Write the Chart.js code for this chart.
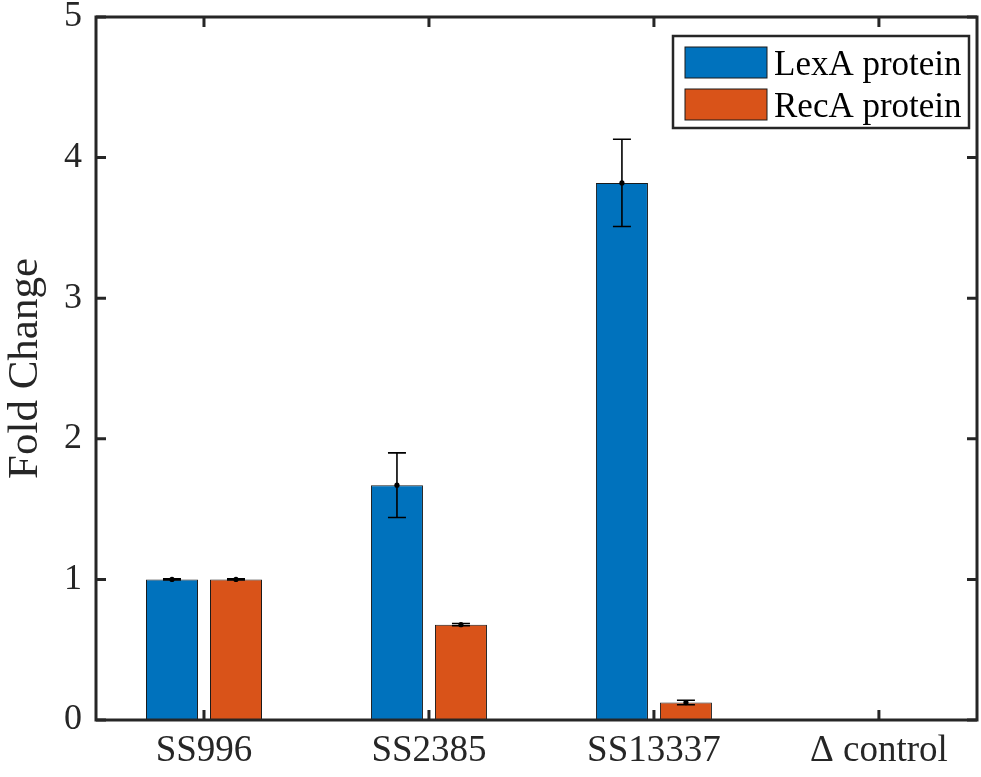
<!DOCTYPE html>
<html>
<head>
<meta charset="utf-8">
<script src="https://cdn.jsdelivr.net/npm/chart.js@4.4.1/dist/chart.umd.min.js"></script>
<style>
html,body{margin:0;padding:0;background:#fff;}
#wrap{width:981px;height:777px;position:relative;}
</style>
</head>
<body>
<div id="wrap"><canvas id="c" width="981" height="777"></canvas></div>
<script>
const categories = ['SS996', 'SS2385', 'SS13337', '\u0394 control'];
const seriesNames = ['LexA protein', 'RecA protein'];
const lexA = [1.0, 1.67, 3.82, 0];
const lexAErr = [0.004, 0.23, 0.31, 0];
const recA = [1.0, 0.678, 0.124, 0];
const recAErr = [0.004, 0.008, 0.016, 0];
const yTicks = [0, 1, 2, 3, 4, 5];

const BLUE = '#0072BD', ORANGE = '#D95319', AX = '#262626';
const FONT = '"Liberation Serif", "Times New Roman", serif';

const errs = [lexAErr, recAErr];

const frame = {
  id: 'frame',
  afterDatasetsDraw(chart) {
    const ctx = chart.ctx, a = chart.chartArea;
    const xs = chart.scales.x, ys = chart.scales.y;
    ctx.save();
    ctx.strokeStyle = '#000'; ctx.fillStyle = '#000'; ctx.lineWidth = 1.6;
    chart.data.datasets.forEach((ds, di) => {
      const meta = chart.getDatasetMeta(di);
      meta.data.forEach((el, i) => {
        const v = ds.data[i].y, e = errs[di][i];
        if (v === 0) return;
        const x = el.x;
        const yT = ys.getPixelForValue(v + e), yB = ys.getPixelForValue(v - e), yV = ys.getPixelForValue(v);
        ctx.beginPath();
        ctx.moveTo(x, yT); ctx.lineTo(x, yB);
        ctx.moveTo(x - 9, yT); ctx.lineTo(x + 9, yT);
        ctx.moveTo(x - 9, yB); ctx.lineTo(x + 9, yB);
        ctx.stroke();
        ctx.beginPath(); ctx.arc(x, yV, 2.6, 0, Math.PI * 2); ctx.fill();
      });
    });
    ctx.restore();
    ctx.save();
    ctx.strokeStyle = AX; ctx.lineWidth = 3;
    ctx.strokeRect(a.left, a.top, a.right - a.left, a.bottom - a.top);
    ctx.beginPath();
    yTicks.forEach(t => {
      const y = ys.getPixelForValue(t);
      ctx.moveTo(a.left, y); ctx.lineTo(a.left + 10, y);
      ctx.moveTo(a.right, y); ctx.lineTo(a.right - 10, y);
    });
    categories.forEach((c, i) => {
      const x = xs.getPixelForValue(i + 1);
      ctx.moveTo(x, a.bottom); ctx.lineTo(x, a.bottom - 10);
      ctx.moveTo(x, a.top); ctx.lineTo(x, a.top + 10);
    });
    ctx.stroke();
    ctx.restore();
    ctx.save();
    const L = 673, T = 36, W = 296, H = 92;
    ctx.fillStyle = '#fff'; ctx.fillRect(L, T, W, H);
    ctx.strokeStyle = AX; ctx.lineWidth = 2.5; ctx.strokeRect(L, T, W, H);
    const cols = [BLUE, ORANGE];
    seriesNames.forEach((n, i) => {
      const sy = 47 + i * 42;
      ctx.fillStyle = cols[i]; ctx.fillRect(685, sy, 82, 31);
      ctx.strokeStyle = '#1a1a1a'; ctx.lineWidth = 1; ctx.strokeRect(685, sy, 82, 31);
      ctx.fillStyle = '#000'; ctx.font = '35px ' + FONT; ctx.textBaseline = 'alphabetic'; ctx.textAlign = 'left';
      ctx.fillText(n, 774, sy + 28);
    });
    ctx.restore();
  }
};

new Chart(document.getElementById('c'), {
  type: 'bar',
  data: {
    datasets: [
      { label: seriesNames[0], data: lexA.map((v, i) => ({ x: i + 1, y: v })), backgroundColor: BLUE, borderColor: '#1a1a1a', borderWidth: 1 },
      { label: seriesNames[1], data: recA.map((v, i) => ({ x: i + 1, y: v })), backgroundColor: ORANGE, borderColor: '#1a1a1a', borderWidth: 1 }
    ]
  },
  options: {
    responsive: false,
    animation: false,
    categoryPercentage: 0.569,
    barPercentage: 0.8125,
    layout: { padding: { top: 17, right: 4, left: 0, bottom: 0 } },
    plugins: { legend: { display: false }, tooltip: { enabled: false } },
    scales: {
      x: {
        type: 'linear', min: 0.52, max: 4.436, offset: false,
        afterBuildTicks(s) { s.ticks = categories.map((c, i) => ({ value: i + 1 })); },
        afterFit(s) { s.height = 57; s.paddingLeft = 0; s.paddingRight = 0; },
        grid: { display: false, drawTicks: false },
        border: { display: false },
        ticks: { callback: v => categories[v - 1], color: AX, font: { family: FONT, size: 37 }, padding: 9, maxRotation: 0, autoSkip: false }
      },
      y: {
        min: 0, max: 5,
        afterBuildTicks(s) { s.ticks = yTicks.map(v => ({ value: v })); },
        afterFit(s) { s.width = 96; s.paddingTop = 0; s.paddingBottom = 0; },
        grid: { display: false, drawTicks: false },
        border: { display: false },
        title: { display: true, text: 'Fold Change', color: AX, font: { family: FONT, size: 43 }, padding: { top: 0, bottom: 0 } },
        ticks: { color: AX, font: { family: FONT, size: 36 }, padding: 14 }
      }
    }
  },
  plugins: [frame]
});
</script>
</body>
</html>
